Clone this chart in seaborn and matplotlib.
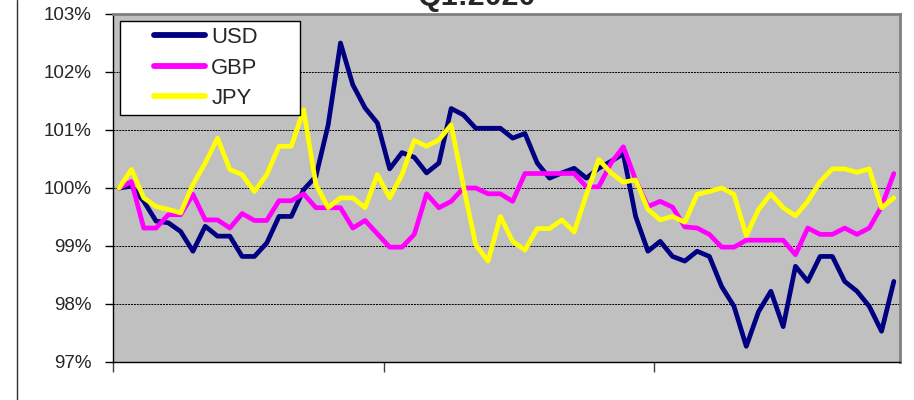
import matplotlib
matplotlib.use("Agg")
import matplotlib.pyplot as plt
import seaborn as sns
import pandas as pd
import numpy as np
from matplotlib.patches import Rectangle
from matplotlib.lines import Line2D

title = "Q1:2020"
series_names = ["USD", "GBP", "JPY"]
usd = [100.00, 100.03, 99.77, 99.43, 99.40, 99.25, 98.91, 99.34, 99.17, 99.17, 98.82, 98.82, 99.05, 99.51, 99.51, 99.97,
       100.20, 101.09, 102.50, 101.78, 101.38, 101.12, 100.33, 100.61, 100.53, 100.26, 100.43, 101.37, 101.26, 101.03, 101.03, 101.03,
       100.86, 100.94, 100.43, 100.17, 100.26, 100.34, 100.17, 100.34, 100.46, 100.59, 99.51, 98.91, 99.08, 98.82, 98.74,
       98.91, 98.82, 98.30, 97.96, 97.27, 97.87, 98.22, 97.61, 98.65, 98.39, 98.82, 98.82, 98.39, 98.22, 97.96, 97.53, 98.39]
gbp = [100.00, 100.11, 99.31, 99.31, 99.54, 99.54, 99.89, 99.45, 99.45, 99.31, 99.56, 99.44, 99.44, 99.78, 99.78, 99.90,
       99.66, 99.66, 99.66, 99.31, 99.44, 99.21, 98.98, 98.98, 99.20, 99.90, 99.66, 99.77, 100.00, 100.00, 99.90, 99.90,
       99.77, 100.25, 100.25, 100.25, 100.25, 100.25, 100.02, 100.02, 100.43, 100.71, 100.14, 99.68, 99.77, 99.67, 99.33,
       99.31, 99.20, 98.98, 98.98, 99.10, 99.10, 99.10, 99.10, 98.85, 99.31, 99.20, 99.20, 99.31, 99.20, 99.31, 99.68, 100.25]
jpy = [100.00, 100.32, 99.83, 99.68, 99.63, 99.57, 100.06, 100.43, 100.86, 100.32, 100.23, 99.94, 100.23, 100.72, 100.72, 101.35,
       100.06, 99.66, 99.83, 99.83, 99.66, 100.23, 99.83, 100.23, 100.82, 100.72, 100.83, 101.09, 100.03, 99.02, 98.74, 99.51,
       99.08, 98.93, 99.30, 99.30, 99.45, 99.24, 99.89, 100.49, 100.26, 100.10, 100.14, 99.63, 99.45, 99.51, 99.41,
       99.89, 99.94, 100.00, 99.89, 99.18, 99.63, 99.90, 99.66, 99.52, 99.77, 100.11, 100.33, 100.33, 100.27, 100.33, 99.66, 99.83]
y_ticks = [97, 98, 99, 100, 101, 102, 103]
y_tick_labels = ["97%", "98%", "99%", "100%", "101%", "102%", "103%"]
colors = ["#000080", "#FF00FF", "#FFFF00"]

n = len(usd)
day = np.arange(n)
df = pd.DataFrame({
    "day": np.concatenate([day, day, day]),
    "value": usd + gbp + jpy,
    "currency": ["USD"] * n + ["GBP"] * n + ["JPY"] * n,
})

sns.set_style("white")
plt.rcParams["font.family"] = ["Liberation Sans", "DejaVu Sans"]

fig = plt.figure(figsize=(9.14, 4.0), dpi=100)
ax = fig.add_axes([113 / 914, 1 - 362 / 400, 787 / 914, 348 / 400])
ax.set_facecolor("#C0C0C0")

sns.lineplot(data=df, x="day", y="value", hue="currency", hue_order=series_names,
             palette=colors, linewidth=3.4, ax=ax, legend=False, zorder=3)

ax.set_xlim(-0.5, n - 0.5)
ax.set_ylim(97, 103)
ax.set_yticks(y_ticks)
ax.set_yticklabels(y_tick_labels, fontsize=13.5)
ax.set_xticks([-0.5, 21.5, 43.5])
ax.set_xticklabels([])
ax.set_xlabel("")
ax.set_ylabel("")
ax.tick_params(axis="y", direction="out", length=6, width=1, color="black", pad=9.5, left=True)
ax.tick_params(axis="x", direction="out", length=7, width=1, color="#404040", bottom=True)
ax.yaxis.grid(True, linestyle=(0, (2, 1)), color="black", linewidth=0.7)
ax.xaxis.grid(False)
ax.set_axisbelow(True)
for s in ["top", "right"]:
    ax.spines[s].set_color("#808080")
    ax.spines[s].set_linewidth(2)
for s in ["left", "bottom"]:
    ax.spines[s].set_color("black")
    ax.spines[s].set_linewidth(1)

# legend frame and entries
ax.add_patch(Rectangle((7 / 787, 1 - 101 / 348), 180 / 787, 94 / 348, transform=ax.transAxes,
                       facecolor="white", edgecolor="black", linewidth=1, zorder=5))
handles = [Line2D([0], [0], color=c, lw=4.2) for c in colors]
leg = ax.legend(handles, series_names, loc="center left", bbox_to_anchor=(41 / 787, 1 - 54 / 348),
                frameon=False, fontsize=15.8, handlelength=2.33, handletextpad=0.28,
                labelspacing=0.44, borderpad=0, borderaxespad=0)
leg.set_zorder(6)

fig.text(477 / 914, 1 - 5 / 400, title, ha="center", va="baseline", fontsize=22, fontweight="bold")
fig.add_artist(Line2D([17 / 914, 17 / 914], [0, 1], transform=fig.transFigure, color="#303030", lw=1))

fig.savefig("out.png", dpi=100)
